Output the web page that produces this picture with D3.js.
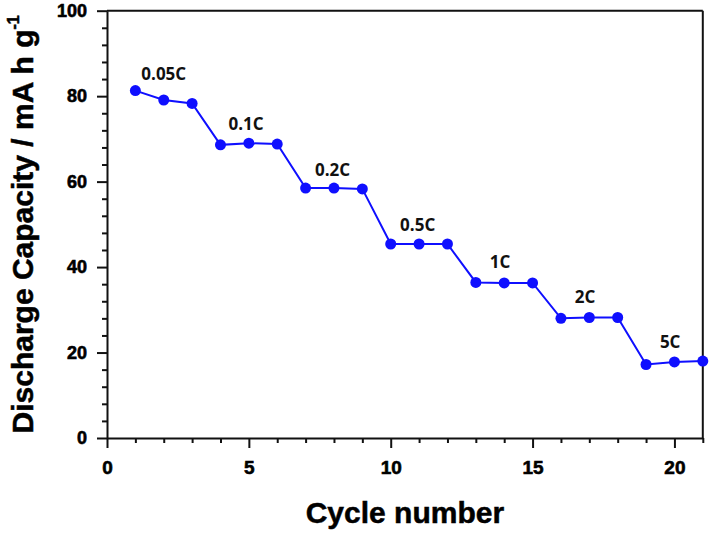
<!DOCTYPE html>
<html>
<head>
<meta charset="utf-8">
<script src="https://cdn.jsdelivr.net/npm/d3@7"></script>
<style>
  html, body { margin: 0; padding: 0; background: #fff; }
  svg { display: block; }
</style>
</head>
<body>
<svg id="chart" width="711" height="533"></svg>
<script>
// ---- data ----
const cycles = [1,2,3,4,5,6,7,8,9,10,11,12,13,14,15,16,17,18,19,20,21];
const capacity = [81.3,79.1,78.3,68.6,69.0,68.8,58.5,58.5,58.3,45.4,45.4,45.4,36.4,36.3,36.3,28.0,28.2,28.2,17.2,17.8,18.0];
const rateLabels = ["0.05C","0.1C","0.2C","0.5C","1C","2C","5C"];
const rateLabelCycle = [2.0,4.9,7.95,10.95,13.85,16.85,19.85];
const rateLabelCapacity = [83.8,72.1,61.3,48.5,39.7,31.5,21.0];
const xTicks = [0,5,10,15,20];
const yTicks = [0,20,40,60,80,100];
const xDomain = [0,21];
const yDomain = [0,100];

// ---- layout ----
const W = 711, H = 533;
const margin = {left:107, top:10.7, right:8.2, bottom:95};
const svg = d3.select("#chart");
const x = d3.scaleLinear().domain(xDomain).range([margin.left, W - margin.right]);
const y = d3.scaleLinear().domain(yDomain).range([H - margin.bottom, margin.top]);
const axisFont = "'Liberation Sans', Arial, sans-serif";
const blue = "#0f0fff";

// minor ticks
const xMinor = d3.range(0, 22, 1).filter(v => !xTicks.includes(v));
const yMinor = d3.range(0, 101, 4).filter(v => !yTicks.includes(v));

function styleAxis(g){
  g.selectAll(".domain").attr("stroke","#111").attr("stroke-width",2);
  g.selectAll(".tick line").attr("stroke","#111").attr("stroke-width",2);
}

// frame top and right
svg.append("line").attr("x1", x(0)).attr("x2", x(21)).attr("y1", y(100)).attr("y2", y(100))
  .attr("stroke","#111").attr("stroke-width",2);
svg.append("line").attr("x1", x(21)).attr("x2", x(21)).attr("y1", y(100)).attr("y2", y(0))
  .attr("stroke","#111").attr("stroke-width",2);

// x minor
const gxm = svg.append("g").attr("transform",`translate(0,${y(0)})`)
  .call(d3.axisBottom(x).tickValues(xMinor).tickSize(5).tickFormat(""));
gxm.select(".domain").remove(); styleAxis(gxm);
// y minor
const gym = svg.append("g").attr("transform",`translate(${x(0)},0)`)
  .call(d3.axisLeft(y).tickValues(yMinor).tickSize(5).tickFormat(""));
gym.select(".domain").remove(); styleAxis(gym);

// x major
const gx = svg.append("g").attr("transform",`translate(0,${y(0)})`)
  .call(d3.axisBottom(x).tickValues(xTicks).tickSize(10).tickSizeOuter(0).tickPadding(13).tickFormat(d3.format("d")));
styleAxis(gx);
gx.selectAll("text").attr("font-family", axisFont).attr("font-weight","bold").attr("font-size","19px")
  .attr("fill","#000").attr("stroke","#000").attr("stroke-width",0.6);

// y major
const gy = svg.append("g").attr("transform",`translate(${x(0)},0)`)
  .call(d3.axisLeft(y).tickValues(yTicks).tickSize(10).tickSizeOuter(0).tickPadding(10).tickFormat(d3.format("d")));
styleAxis(gy);
gy.selectAll("text").attr("font-family", axisFont).attr("font-weight","bold").attr("font-size","18px")
  .attr("fill","#000").attr("stroke","#000").attr("stroke-width",0.6);

// line
const pts = cycles.map((c,i) => [c, capacity[i]]);
svg.append("path").datum(pts)
  .attr("fill","none").attr("stroke",blue).attr("stroke-width",2)
  .attr("d", d3.line().x(d => x(d[0])).y(d => y(d[1])));
svg.append("g").selectAll("circle").data(pts).join("circle")
  .attr("cx", d => x(d[0])).attr("cy", d => y(d[1])).attr("r", 5.5).attr("fill", blue);

// rate labels
svg.append("g").selectAll("text").data(rateLabels).join("text")
  .attr("x", (d,i) => x(rateLabelCycle[i]))
  .attr("y", (d,i) => y(rateLabelCapacity[i]))
  .attr("text-anchor","middle")
  .attr("font-family","'Open Sans', 'Noto Sans', sans-serif")
  .attr("font-weight","bold").attr("font-size","17px").attr("fill","#111")
  .text(d => d);

// axis titles
svg.append("text")
  .attr("x", (x(0)+x(21))/2).attr("y", 523)
  .attr("text-anchor","middle")
  .attr("font-family", axisFont).attr("font-weight","bold").attr("font-size","30px").attr("fill","#000")
  .attr("stroke","#000").attr("stroke-width",0.5)
  .text("Cycle number");

const yt = svg.append("text")
  .attr("transform", `translate(33,${(y(0)+y(100))/2}) rotate(-90)`)
  .attr("text-anchor","middle")
  .attr("font-family", axisFont).attr("font-weight","bold").attr("font-size","30px").attr("fill","#000")
  .attr("stroke","#000").attr("stroke-width",0.5);
yt.append("tspan").text("Discharge Capacity / mA h g");
yt.append("tspan").attr("font-size","16px").attr("dy","-14").text("-1");
</script>
</body>
</html>
